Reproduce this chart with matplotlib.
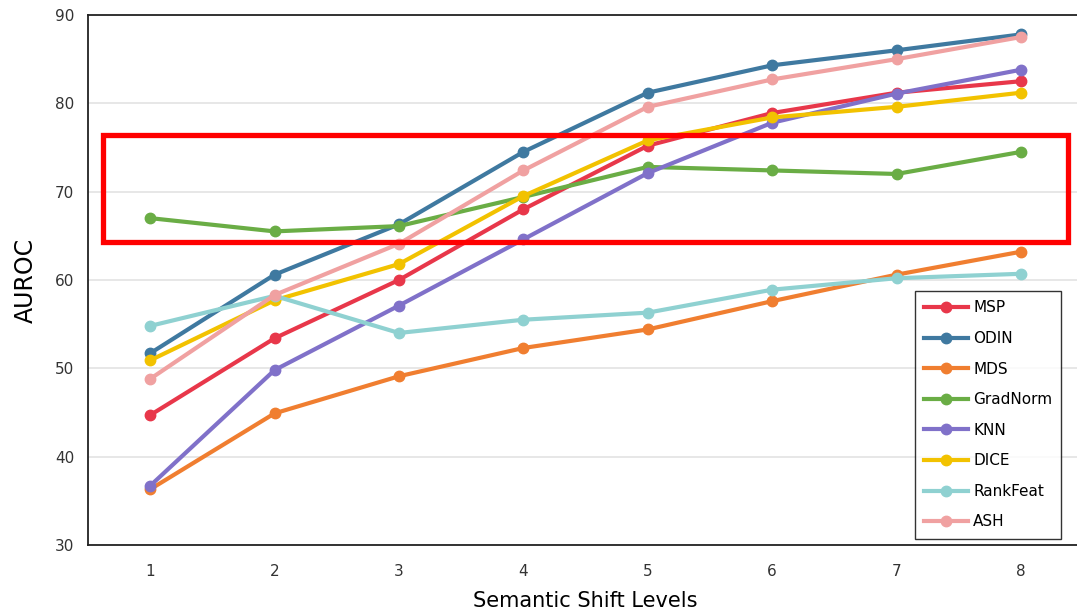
import numpy as np
import matplotlib.pyplot as plt
from matplotlib.patches import Rectangle

levels = [1, 2, 3, 4, 5, 6, 7, 8]
msp = [44.7, 53.4, 60.0, 68.0, 75.2, 78.9, 81.2, 82.5]
odin = [51.7, 60.6, 66.3, 74.5, 81.2, 84.3, 86.0, 87.8]
mds = [36.3, 44.9, 49.1, 52.3, 54.4, 57.6, 60.6, 63.2]
gradnorm = [67.0, 65.5, 66.1, 69.4, 72.8, 72.4, 72.0, 74.5]
knn = [36.7, 49.8, 57.1, 64.6, 72.1, 77.8, 81.1, 83.8]
dice = [50.9, 57.7, 61.8, 69.5, 75.8, 78.4, 79.6, 81.2]
rankfeat = [54.8, 58.2, 54.0, 55.5, 56.3, 58.9, 60.2, 60.7]
ash = [48.8, 58.3, 64.1, 72.4, 79.6, 82.7, 85.0, 87.5]

series = [
    ("MSP", msp, "#e8374a"),
    ("ODIN", odin, "#3f79a0"),
    ("MDS", mds, "#f07e30"),
    ("GradNorm", gradnorm, "#6aad45"),
    ("KNN", knn, "#8071c9"),
    ("DICE", dice, "#f2c200"),
    ("RankFeat", rankfeat, "#8fd1d1"),
    ("ASH", ash, "#f0a1a1"),
]

fig = plt.figure(figsize=(10.77, 6.16), dpi=100)
ax = fig.add_axes([0.0817, 0.1153, 0.924, 0.8604])

for name, vals, col in series:
    ax.plot(levels, vals, color=col, lw=3, marker="o", ms=7.5, label=name)

ax.set_xlim(0.5, 8.5)
ax.set_ylim(30, 90)
ax.set_yticks(np.arange(30, 91, 10))
ax.set_xticks(levels)
ax.grid(axis="y", color="#e3e3e3", lw=1.2)
ax.set_axisbelow(True)
for s in ax.spines.values():
    s.set_color("#222222")
    s.set_linewidth(1.3)
ax.tick_params(length=0, labelsize=11, colors="#333333", pad=10)
ax.tick_params(axis="x", pad=14)
ax.set_ylabel("AUROC", fontsize=17, labelpad=12)
ax.set_xlabel("Semantic Shift Levels", fontsize=15, labelpad=8)

# red highlight box around the GradNorm band
ax.add_patch(Rectangle((0.62, 64.3), 7.76, 12.1, fill=False, edgecolor="#ff0000",
                       lw=3.8, zorder=5, clip_on=False))

leg = ax.legend(loc="lower left", bbox_to_anchor=(0.831, 0.012), fontsize=11,
                frameon=True, fancybox=False, edgecolor="black", handlelength=2.9,
                borderpad=0.6, labelspacing=1.02, handletextpad=0.3,
                borderaxespad=0.0)
leg.get_frame().set_linewidth(1.0)

fig.savefig("out.png", dpi=100)
